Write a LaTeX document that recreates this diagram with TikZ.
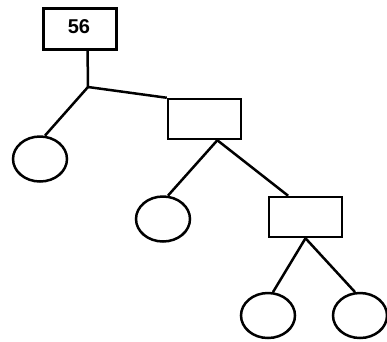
\documentclass[tikz,border=0pt]{standalone}
\usepackage{fontspec}
\setmainfont{Liberation Sans}
\usetikzlibrary{calc,shapes.geometric}
\begin{document}
\begin{tikzpicture}[x=1pt,y=-1pt,line width=2.5pt,
  box/.style={draw,rectangle,minimum width=73pt,minimum height=40pt,inner sep=0pt},
  leaf/.style={draw,ellipse,minimum width=54pt,minimum height=45pt,inner sep=0pt},
  edge/.style={line width=2.5pt}]
\useasboundingbox (0,0) rectangle (387,341);
\node[box,minimum height=41pt] (r1) at (80,29) {};
\node[font=\bfseries\fontsize{20}{20}\selectfont] (t1) at (79,27) {56};
\node[box] (r2) at (204.5,119) {};
\node[box] (r3) at (305.5,217) {};
\node[leaf] (c1) at (40,159) {};
\node[leaf] (c2) at (163,219) {};
\node[leaf] (c3) at (268,315.5) {};
\node[leaf] (c4) at (360,315.5) {};
\coordinate (j) at (88,87);
\draw[edge] ($(r1.south west)!0.6!(r1.south east)$) -- (j);
\draw[edge] (j) -- (c1.78);
\draw[edge] (j) -- (r2.north west);
\draw[edge] ($(r2.south west)!0.67!(r2.south east)$) coordinate (b2) -- (c2.78);
\draw[edge] (b2) -- ($(r3.north west)!0.27!(r3.north east)$);
\draw[edge] (r3.south) -- (c3.78);
\draw[edge] (r3.south) -- (c4.102);
\end{tikzpicture}
\end{document}
